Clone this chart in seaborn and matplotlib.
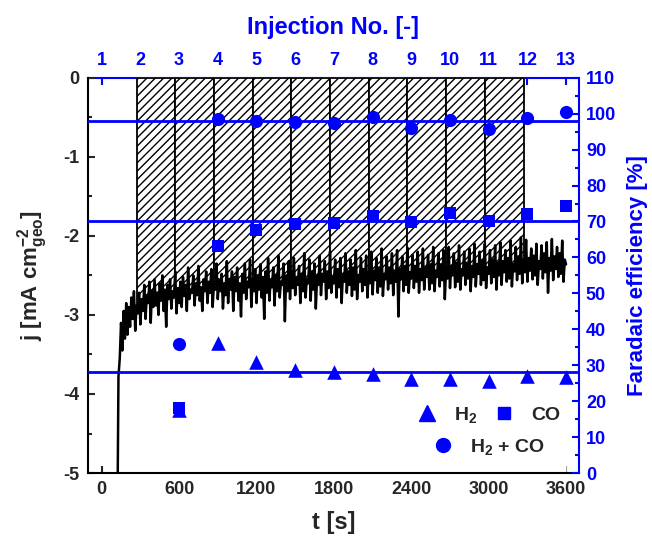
import numpy as np
import pandas as pd
import matplotlib
matplotlib.use("Agg")
import matplotlib.pyplot as plt
import seaborn as sns
from matplotlib.patches import Rectangle
from matplotlib.lines import Line2D

sns.set_style("ticks")
plt.rcParams.update({
    "font.family": ["Liberation Sans", "DejaVu Sans"],
    "font.weight": "bold",
    "axes.labelweight": "bold",
    "mathtext.fontset": "custom",
    "mathtext.rm": "Liberation Sans:bold",
    "mathtext.it": "Liberation Sans:bold",
    "mathtext.bf": "Liberation Sans:bold",
    "mathtext.sf": "Liberation Sans:bold",
    "hatch.linewidth": 1.0,
})

BLUE = "#0000FF"

# ---- data ----
t_start, t_step = 120, 10
j_values = [
    -6.00, -3.78, -3.55, -3.10, -3.45, -2.95, -3.30, -2.85, -3.25, -2.90,
    -3.15, -2.78, -3.05, -2.70, -3.20, -2.88, -2.98, -2.72, -3.12, -2.80,
    -2.95, -2.62, -3.05, -2.75, -2.85, -2.58, -3.10, -2.70, -2.90, -2.55,
    -2.88, -2.72, -3.00, -2.60, -2.82, -2.50, -2.95, -2.68, -3.15, -2.62,
    -2.80, -2.55, -2.92, -2.70, -2.78, -2.45, -2.98, -2.66, -2.85, -2.58,
    -2.90, -2.52, -2.76, -2.62, -2.95, -2.40, -2.80, -2.68, -2.72, -2.50,
    -2.88, -2.60, -2.75, -2.38, -2.82, -2.65, -2.95, -2.55, -2.70, -2.45,
    -2.85, -2.58, -2.72, -2.42, -2.90, -2.62, -2.68, -2.35, -2.80, -2.55,
    -2.70, -2.48, -2.92, -2.60, -2.75, -2.32, -2.85, -2.55, -2.68, -2.45,
    -2.95, -2.52, -2.70, -2.40, -2.82, -2.60, -3.02, -2.48, -2.72, -2.35,
    -2.80, -2.58, -2.65, -2.30, -2.90, -2.55, -2.70, -2.42, -2.85, -2.50,
    -2.68, -2.36, -2.78, -2.52, -3.05, -2.45, -2.72, -2.28, -2.82, -2.55,
    -2.65, -2.40, -2.88, -2.50, -2.70, -2.25, -2.78, -2.58, -2.62, -2.35,
    -3.08, -2.50, -2.70, -2.32, -2.80, -2.45, -2.66, -2.28, -2.75, -2.52,
    -2.62, -2.38, -2.85, -2.48, -2.70, -2.22, -2.78, -2.55, -2.60, -2.30,
    -2.82, -2.45, -2.68, -2.35, -2.92, -2.50, -2.62, -2.25, -2.75, -2.48,
    -2.58, -2.32, -2.80, -2.45, -2.66, -2.20, -2.72, -2.52, -2.60, -2.30,
    -2.78, -2.42, -2.65, -2.28, -2.85, -2.48, -2.58, -2.22, -2.72, -2.45,
    -2.62, -2.30, -2.76, -2.40, -2.68, -2.18, -2.80, -2.50, -2.58, -2.28,
    -2.70, -2.42, -2.62, -2.25, -2.78, -2.46, -2.60, -2.20, -2.74, -2.44,
    -2.56, -2.28, -2.72, -2.40, -2.64, -2.16, -2.76, -2.48, -2.55, -2.26,
    -2.68, -2.40, -2.60, -2.22, -2.75, -2.44, -2.58, -2.18, -3.02, -2.42,
    -2.55, -2.26, -2.70, -2.38, -2.62, -2.15, -2.72, -2.46, -2.54, -2.24,
    -2.66, -2.38, -2.58, -2.20, -2.72, -2.42, -2.56, -2.16, -2.68, -2.40,
    -2.52, -2.24, -2.68, -2.36, -2.60, -2.14, -2.70, -2.44, -2.52, -2.22,
    -2.64, -2.36, -2.56, -2.18, -2.80, -2.40, -2.54, -2.14, -2.66, -2.38,
    -2.50, -2.22, -2.65, -2.34, -2.58, -2.12, -2.68, -2.42, -2.50, -2.20,
    -2.62, -2.34, -2.54, -2.16, -2.70, -2.38, -2.52, -2.10, -2.64, -2.36,
    -2.48, -2.20, -2.62, -2.32, -2.56, -2.10, -2.66, -2.40, -2.48, -2.18,
    -2.60, -2.30, -2.52, -2.12, -2.68, -2.34, -2.50, -2.08, -2.62, -2.32,
    -2.46, -2.18, -2.58, -2.28, -2.54, -2.06, -2.64, -2.36, -2.45, -2.14,
    -2.56, -2.26, -2.48, -2.02, -2.60, -2.30, -2.46, -2.05, -2.58, -2.28,
    -2.44, -2.16, -2.55, -2.25, -2.50, -2.10, -2.62, -2.32, -2.42, -2.12,
    -2.54, -2.22, -2.46, -2.08, -2.72, -2.28, -2.44, -2.04, -2.56, -2.26,
    -2.42, -2.14, -2.52, -2.22, -2.48, -2.06, -2.58, -2.30, -2.36,
]
t_values = t_start + t_step * np.arange(len(j_values))

inj_times = [600, 900, 1200, 1500, 1800, 2100, 2400, 2700, 3000, 3300, 3600]
fe_h2 = [17.6, 36.2, 30.8, 28.7, 28.0, 27.7, 26.3, 26.1, 25.7, 27.0, 26.8]
fe_co = [18.2, 63.2, 67.7, 69.3, 69.5, 71.6, 69.8, 72.3, 70.1, 72.1, 74.2]
fe_sum = [35.9, 98.6, 98.0, 97.7, 97.4, 99.1, 96.0, 98.3, 95.7, 98.8, 100.5]
fe_ref_lines = [98, 70, 28]

hatch_edges = [270, 570, 870, 1170, 1470, 1770, 2070, 2370, 2670, 2970, 3270]
injection_ticks = list(range(1, 14))
injection_period = 300

df_j = pd.DataFrame({"t": t_values, "j": j_values})
df_fe = pd.DataFrame({"t": inj_times, "H2": fe_h2, "CO": fe_co, "SUM": fe_sum})

# ---- figure ----
fig = plt.figure(figsize=(6.52, 5.40), dpi=100)
ax = fig.add_axes([0.135, 0.124, 0.753, 0.732])
ax.set_xlim(-106, 3700)
ax.set_ylim(-5, 0)

# hatched injection intervals
for a, b in zip(hatch_edges[:-1], hatch_edges[1:]):
    ax.add_patch(Rectangle((a, -5), b - a, 5, facecolor="white", edgecolor="black",
                           hatch="////", linewidth=1.3, zorder=0.5))
# white area below current curve hides the hatching
ax.fill_between(df_j["t"], -6, df_j["j"], color="white", zorder=0.8, linewidth=0)

sns.lineplot(data=df_j, x="t", y="j", ax=ax, color="black", linewidth=1.8,
             zorder=2, estimator=None, sort=False)

ax.set_xticks([0, 600, 1200, 1800, 2400, 3000, 3600])
ax.set_xticks(np.arange(0, 3601, 300), minor=True)
ax.set_yticks([-5, -4, -3, -2, -1, 0])
ax.set_yticklabels(["-5", "-4", "-3", "-2", "-1", "0"])
ax.set_yticks(np.arange(-5, 0.01, 0.5), minor=True)
ax.tick_params(axis="both", which="major", direction="in", length=5, width=1.5,
               labelsize=13, pad=6)
ax.tick_params(axis="both", which="minor", direction="in", length=3, width=1.5)
ax.tick_params(top=False, right=False, which="both")
ax.set_xlabel("t [s]", fontsize=17, labelpad=9)
ax.set_ylabel(r"j [mA cm$^{-2}_{geo}$]", fontsize=16, labelpad=10)
for s in ["left", "bottom"]:
    ax.spines[s].set_linewidth(1.5)
    ax.spines[s].set_color("black")
ax.spines["top"].set_visible(False)
ax.spines["right"].set_visible(False)

# right axis: Faradaic efficiency
ax2 = ax.twinx()
ax2.set_ylim(0, 110)
for v in fe_ref_lines:
    ax2.axhline(v, color=BLUE, linewidth=2, zorder=3)
sns.scatterplot(data=df_fe, x="t", y="H2", ax=ax2, marker="^", s=110, color=BLUE,
                edgecolor=BLUE, linewidth=0, zorder=4)
sns.scatterplot(data=df_fe, x="t", y="CO", ax=ax2, marker="s", s=85, color=BLUE,
                edgecolor=BLUE, linewidth=0, zorder=4)
sns.scatterplot(data=df_fe, x="t", y="SUM", ax=ax2, marker="o", s=90, color=BLUE,
                edgecolor=BLUE, linewidth=0, zorder=4)
ax2.set_yticks(np.arange(0, 111, 10))
ax2.set_yticks(np.arange(0, 111, 5), minor=True)
ax2.tick_params(axis="y", which="major", direction="in", length=5, width=1.5,
                labelsize=13, colors=BLUE, pad=5)
ax2.tick_params(axis="y", which="minor", direction="in", length=3, width=1.5, colors=BLUE)
ax2.set_ylabel("Faradaic efficiency [%]", fontsize=16, color=BLUE, labelpad=8)
ax2.set_xlabel("")
ax2.spines["right"].set_color(BLUE)
ax2.spines["right"].set_linewidth(1.5)
ax2.spines["top"].set_visible(False)
ax2.spines["left"].set_visible(False)
ax2.spines["bottom"].set_visible(False)
ax2.set_xlim(-106, 3700)

# top axis: injection number
sec = ax.secondary_xaxis("top", functions=(lambda x: x / injection_period + 1,
                                           lambda n: (n - 1) * injection_period))
sec.set_xticks(injection_ticks)
sec.tick_params(axis="x", direction="in", length=5, width=1.5, labelsize=13,
                colors=BLUE, pad=6)
sec.spines["top"].set_color(BLUE)
sec.spines["top"].set_linewidth(1.5)
sec.set_xlabel("Injection No. [-]", fontsize=17, color=BLUE, labelpad=13)

# legends
h_h2 = Line2D([], [], linestyle="none", marker="^", markersize=11, color=BLUE)
h_co = Line2D([], [], linestyle="none", marker="s", markersize=9, color=BLUE)
h_sum = Line2D([], [], linestyle="none", marker="o", markersize=10, color=BLUE)
leg1 = ax2.legend([h_h2, h_co], [r"H$_2$", "CO"], ncol=2, loc="center left",
                  bbox_to_anchor=(0.670, 0.147), frameon=False, fontsize=14,
                  handlelength=1.0, handletextpad=0.9, columnspacing=0.9,
                  borderpad=0, borderaxespad=0)
ax2.add_artist(leg1)
ax2.legend([h_sum], [r"H$_2$ + CO"], loc="center left",
           bbox_to_anchor=(0.703, 0.066), frameon=False, fontsize=14,
           handlelength=1.0, handletextpad=0.9, borderpad=0, borderaxespad=0)

fig.savefig("out.png", dpi=100)
